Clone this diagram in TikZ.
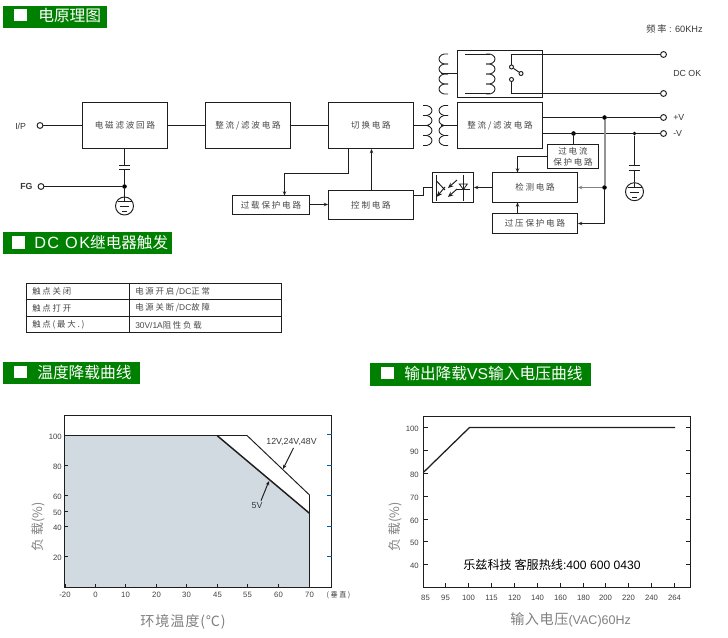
\documentclass[tikz,border=0pt]{standalone}
\usepackage{fontspec}
\setmainfont{Liberation Sans}
\newfontfamily\cjk{Noto Sans CJK SC}
\newfontfamily\cjkwide[LetterSpace=21]{Noto Sans CJK SC}
\usetikzlibrary{positioning, arrows.meta}

\definecolor{headgreen}{RGB}{0,128,0}
\definecolor{loadfill}{RGB}{209,217,225}
\definecolor{wirecol}{RGB}{30,30,30}
\definecolor{tickblue}{RGB}{0,90,170}

\tikzset{
    wire/.style={draw=wirecol, line width=.72pt},
    tip/.style={wire, -{Stealth[length=3.2pt,width=2.6pt]}},
    blockbox/.style 2 args={wire, rectangle, inner sep=0pt, align=center, text=black!72,
        minimum width=#1*.75pt, minimum height=#2*.75pt,
        font=\fontsize{6.4}{8.4}\cjkwide},
    port/.style={wire, circle, fill=white, inner sep=0pt, minimum size=4.4pt},
    junction/.style={circle, fill=black, inner sep=0pt, minimum size=3.4pt},
    plate/.style={rectangle, fill=wirecol, inner sep=0pt, minimum width=8.2pt, minimum height=.72pt},
    gndring/.style={wire, circle, inner sep=0pt, minimum size=13.5pt},
    labeltext/.style={text=black!78, inner sep=0pt, font=\fontsize{6.6}{8}\selectfont},
    headbar/.style 2 args={rectangle, fill=headgreen, inner sep=0pt, anchor=north west,
        minimum width=#1*.75pt, minimum height=#2*.75pt},
    headsquare/.style={rectangle, fill=white, inner sep=0pt, minimum size=9.6pt},
    headtext/.style={text=white, anchor=west, inner sep=0pt, font=\fontsize{11.8}{14}\cjk},
    celltext/.style={text=black!72, anchor=west, inner sep=0pt, font=\fontsize{6.3}{8}\cjkwide},
    ticktext/.style={text=black!75, inner sep=0pt, font=\fontsize{5.8}{7}\selectfont},
    axistext/.style={text=black!50, inner sep=0pt, font=\fontsize{10.6}{13}\cjk},
    groundmark/.pic={
        \draw[wire, line width=.6pt] (0,-9) -- (0,-4.5);
        \draw[wire, line width=.6pt] (-7,-4.5) -- (7,-4.5);
        \draw[wire, line width=.6pt] (-4.5,.5) -- (4.5,.5);
        \draw[wire, line width=.6pt] (-2.2,5.5) -- (2.2,5.5);
    }
}

\newcommand{\coilmark}[3]{
    \foreach \k in {0,1,2,3}
        \draw[wire, line width=.65pt] (#1,#2+\k*10) .. controls (#1+#3,#2+\k*10-1.5) and (#1+#3,#2+\k*10+11.5) .. (#1,#2+\k*10+10);
}

\begin{document}
\begin{tikzpicture}[x=.75pt, y=-.75pt]

    \useasboundingbox (0,0) rectangle (728,638);

    \node[headbar={104}{22}] (headA) at (3,6) {};
    \node[headsquare] (squareA) at (20.5,15) {};
    \node[headtext] (titleA) at (38,16) {电原理图};

    \node[headbar={169}{22}] (headB) at (3,232) {};
    \node[headsquare] (squareB) at (18.5,242.5) {};
    \node[headtext] (titleB) at (34,242.5) {\normalfont\fontsize{12.2}{14}\selectfont\addfontfeature{LetterSpace=9}DC OK\fontsize{11.7}{14}\cjk 继电器触发};

    \node[headbar={137}{22}] (headC) at (3,362) {};
    \node[headsquare] (squareC) at (20.5,372) {};
    \node[headtext] (titleC) at (37,372.5) {温度降载曲线};

    \node[headbar={221}{23}] (headD) at (370,363) {};
    \node[headsquare] (squareD) at (387.5,373) {};
    \node[headtext] (titleD) at (404,374) {输出降载\normalfont VS\cjk 输入电压曲线};

    \node[labeltext, anchor=east, font=\fontsize{6.9}{8}\selectfont] (freqText) at (703,29) {{\cjkwide 频率} : 60KHz};
    \node[labeltext, anchor=west] (ipText) at (15,126) {I/P};
    \node[labeltext, anchor=west, font=\fontsize{6.6}{8}\bfseries] (fgText) at (20,186.5) {FG};
    \node[labeltext, anchor=west] (dcokText) at (673,73.5) {DC OK};
    \node[labeltext, anchor=west] (plusText) at (673,117.5) {+V};
    \node[labeltext, anchor=west] (minusText) at (673,133.5) {-V};

    \node[port] (ipPort) at (40,125.5) {};
    \node[port] (fgPort) at (41,186.5) {};
    \node[port] (okTop) at (663.5,54.5) {};
    \node[port] (okBot) at (663.5,93.5) {};
    \node[port] (plusPort) at (663.5,117.5) {};
    \node[port] (minusPort) at (663.5,133.5) {};

    \node[blockbox={85}{46}] (emi) at (125,125.5) {电磁滤波回路};
    \node[blockbox={85}{46}] (rectIn) at (248,125.5) {整流/滤波电路};
    \node[blockbox={85}{46}] (switcher) at (371,125.5) {切换电路};
    \node[blockbox={85}{47}] (relay) at (500,74) {};
    \node[blockbox={85}{46}] (rectOut) at (500,125.5) {整流/滤波电路};
    \node[blockbox={77}{19}] (overload) at (271,205) {过载保护电路};
    \node[blockbox={85}{29}] (control) at (371,205) {控制电路};
    \node[blockbox={41}{30}] (opto) at (453,187.5) {};
    \node[blockbox={85}{30}] (detect) at (535,187.5) {检测电路};
    \node[blockbox={85}{20}] (overvolt) at (535,223.5) {过压保护电路};
    \node[blockbox={51}{24}] (overcurrent) at (573,156.5) {过电流\\保护电路};

    \draw[wire] (ipPort) -- (emi);
    \draw[wire] (emi) -- (rectIn);
    \draw[wire] (rectIn) -- (switcher);

    \node[plate] (capA) at (124.5,165.5) {};
    \node[plate] (capB) at (124.5,169.5) {};
    \node[junction] (fgDot) at (124.5,186.5) {};
    \node[gndring] (gndA) at (124.5,206) {};
    \draw[wire] (emi.south -| capA) -- (capA);
    \draw[wire] (capB) -- (fgDot);
    \draw[wire] (fgPort) -- (fgDot);
    \draw[wire] (fgDot) -- (gndA.north);
    \pic at (gndA.center) {groundmark};

    \coordinate (swDrop) at (348.5,148.5);
    \coordinate (swBend) at (348.5,173.5);
    \coordinate (olBend) at (284.5,173.5);
    \coordinate (olTop) at (284.5,195.5);
    \draw[tip] (swDrop) -- (swBend) -- (olBend) -- (olTop);
    \draw[tip] ([yshift=.38pt]overload.east) -- ([yshift=.38pt]control.west);
    \draw[tip] ([xshift=.38pt]control.north) -- ([xshift=.38pt]switcher.south);

    \coilmark{448}{54}{-12}
    \coilmark{486}{54}{12}
    \coilmark{423}{105.5}{12}
    \coilmark{448}{105.5}{-12}

    \coordinate (coilTop) at (441,73.5);
    \coordinate (coilPri) at (429,125.5);
    \coordinate (coilSec) at (441,125.5);
    \draw[wire] (coilTop) -- (coilTop -| relay.west);
    \draw[wire] (switcher) -- (coilPri);
    \draw[wire] (coilSec) -- (rectOut);

    \coordinate (relayA) at (465,54.5);
    \coordinate (relayB) at (490,54.5);
    \coordinate (relayC) at (465,93.5);
    \coordinate (relayD) at (490,93.5);
    \draw[wire] (relayA) -- (relayB);
    \draw[wire] (relayC) -- (relayD);

    \node[port, minimum size=3pt] (contactA) at (511.5,67) {};
    \node[port, minimum size=3pt] (contactB) at (511.5,79.5) {};
    \node[port, minimum size=3pt] (contactC) at (521,73.5) {};
    \draw[wire] (contactA) -- (contactC);
    \draw[wire] (contactA) |- (okTop);
    \draw[wire] (contactB) |- (okBot);

    \coordinate (plusOut) at (542.5,117.5);
    \coordinate (minusOut) at (542.5,133.5);
    \node[junction] (plusDot) at (604.5,117.5) {};
    \node[junction] (senseDot) at (573.5,133.5) {};
    \node[junction, minimum size=2.8pt] (capDot) at (634.5,133.5) {};
    \node[junction] (fbDot) at (604.5,187.5) {};
    \draw[wire] (plusOut) -- (plusDot);
    \draw[wire] (plusDot) -- (plusPort);
    \draw[wire] (minusOut) -- (minusPort);
    \draw[wire] (senseDot) -- (senseDot |- overcurrent.north);
    \draw[draw=black!42, line width=1.5pt] (plusDot) -- (fbDot);
    \draw[tip, draw=black!50] (fbDot) -- (detect.east |- fbDot);
    \draw[tip] (fbDot) |- (overvolt.east);

    \node[plate] (capC) at (634.5,165.5) {};
    \node[plate] (capD) at (634.5,170.5) {};
    \node[gndring] (gndB) at (634.5,191.7) {};
    \draw[wire] (capDot) -- (capC);
    \draw[wire] (capD) -- (gndB.north);
    \pic at (gndB.center) {groundmark};

    \coordinate (ocTop) at (517.5,172.5);
    \draw[tip] (overcurrent.west) -| (ocTop);
    \coordinate (ovTop) at (517.5,213.5);
    \coordinate (ovUp) at (517.5,202.5);
    \draw[tip] (ovTop) -- (ovUp);
    \draw[tip] (detect) -- (opto);

    \coordinate (ctlOut) at (413.5,195.5);
    \coordinate (ctlMid) at (423.5,195.5);
    \coordinate (optoIn) at (423.5,187.5);
    \draw[wire] (ctlOut) -- (ctlMid) -- (optoIn) -- (opto.west);

    \draw[wire] (436.5,175) -- (436.5,201);
    \draw[wire] (436.5,181) -- (445,190);
    \draw[tip, -{Stealth[length=4.5pt,width=3.6pt]}] (445,187) -- (436.5,197);
    \draw[tip, -{Stealth[length=4pt,width=3.4pt]}] (457,180) -- (448,188);
    \draw[tip, -{Stealth[length=4pt,width=3.4pt]}] (457,189) -- (448,197);
    \draw[wire, line width=.6pt] (459.3,184) -- (467.3,184) -- (463.5,189.5) -- cycle;
    \draw[wire] (457.3,189.5) -- (470,189.5);
    \draw[wire] (463.5,175) -- (463.5,201);

    \draw[wire] (26.5,283.5) rectangle (281.5,332.5);
    \draw[wire] (26.5,299.5) -- (281.5,299.5);
    \draw[wire] (26.5,316.5) -- (281.5,316.5);
    \draw[wire] (129.5,283.5) -- (129.5,332.5);
    \node[celltext] (cellA) at (32,291.5) {触点关闭};
    \node[celltext] (cellB) at (135,291.5) {电源开启/\normalfont DC\cjkwide 正常};
    \node[celltext] (cellC) at (32,308) {触点打开};
    \node[celltext] (cellD) at (135,308) {电源关断/\normalfont DC\cjkwide 故障};
    \node[celltext] (cellE) at (32,325) {触点(最大.)};
    \node[celltext] (cellF) at (135,325) {\normalfont 30V/1A\cjkwide 阻性负载};

    \fill[loadfill] (65,435.5) -- (217,435.5) -- (309.7,513.3) -- (309.7,587) -- (65,587) -- cycle;
    \draw[wire] (65,435.5) -- (247,435.5) -- (309.5,495) -- (309.5,587);
    \draw[wire, line width=1.1pt] (217,435.5) -- (309.5,513.3);
    \draw[wire] (64.5,415.5) rectangle (331.5,587.5);

    \foreach \px/\lab in {65/-20,95.5/0,125.5/10,156.5/20,186.5/30,217.5/45,247.5/55,278.5/60,309.5/70} {
        \draw[wire] (\px,587.5) -- (\px,583.5);
        \node[ticktext] at (\px,594.5) {\lab};
    }
    \foreach \py/\lab in {435.5/100,465.5/80,495.5/60,511.5/50,526.5/40,556.5/20} {
        \draw[wire] (64.5,\py) -- (68,\py);
        \node[ticktext, anchor=east] at (62,\py+1) {\lab};
    }
    \foreach \py in {434.5,465.5,495.5,526.5,556.5}
        \draw[draw=tickblue, line width=.75pt] (327,\py) -- (331.5,\py);

    \node[labeltext] (lineHigh) at (291.5,442) {12V,24V,48V};
    \node[labeltext] (lineLow) at (257,506) {5V};
    \coordinate (highTip) at (283,469);
    \coordinate (lowTip) at (269,481);
    \draw[tip] (lineHigh.south) ++(2,2) -- (highTip);
    \draw[tip] (lineLow.north) ++(4,-2) -- (lowTip);
    \node[ticktext, font=\fontsize{5.4}{7}\cjkwide] (vertText) at (338.5,595) {(垂直)};
    \node[axistext, rotate=90, font=\fontsize{9.6}{12}\cjk] (yLabelA) at (38,527) {负 载(\%)};
    \node[axistext] (xLabelA) at (183,622) {\addfontfeature{LetterSpace=6}环境温度(℃)};

    \draw[wire] (423.5,416.5) rectangle (690.5,587.5);
    \draw[wire, line width=.95pt] (423.5,472.3) -- (469.5,427.5) -- (675,427.5);
    \foreach \py/\lab in {427.5/100,450.5/90,473.5/80,496.5/70,519.5/60,541.5/50,564.5/40} {
        \draw[wire] (423.5,\py) -- (427.5,\py);
        \draw[wire] (690.5,\py) -- (686,\py);
        \node[ticktext, anchor=east] at (419,\py+1) {\lab};
    }
    \foreach \px/\lab in {445.5/95,468.5/100,491.5/115,514.5/120,537.5/140,560.5/160,583.5/180,605.5/200,628.5/220,651.5/240,674.5/264} {
        \draw[wire] (\px,587.5) -- (\px,583);
        \node[ticktext] at (\px,597.5) {\lab};
    }
    \node[ticktext] (tickLow) at (425.5,597.5) {85};

    \node[axistext, rotate=90, font=\fontsize{9.6}{12}\cjk] (yLabelB) at (395,527) {负 载(\%)};
    \node[axistext, anchor=west] (xLabelB) at (510,620) {\addfontfeature{LetterSpace=4}输入电压\normalfont\fontsize{9.4}{12}\selectfont(VAC)60Hz};
    \node[text=black, anchor=west, inner sep=0pt, font=\fontsize{9.1}{12}\cjk] (hotline) at (463,564.5) {乐兹科技 客服热线\normalfont:400 600 0430};

\end{tikzpicture}
\end{document}
